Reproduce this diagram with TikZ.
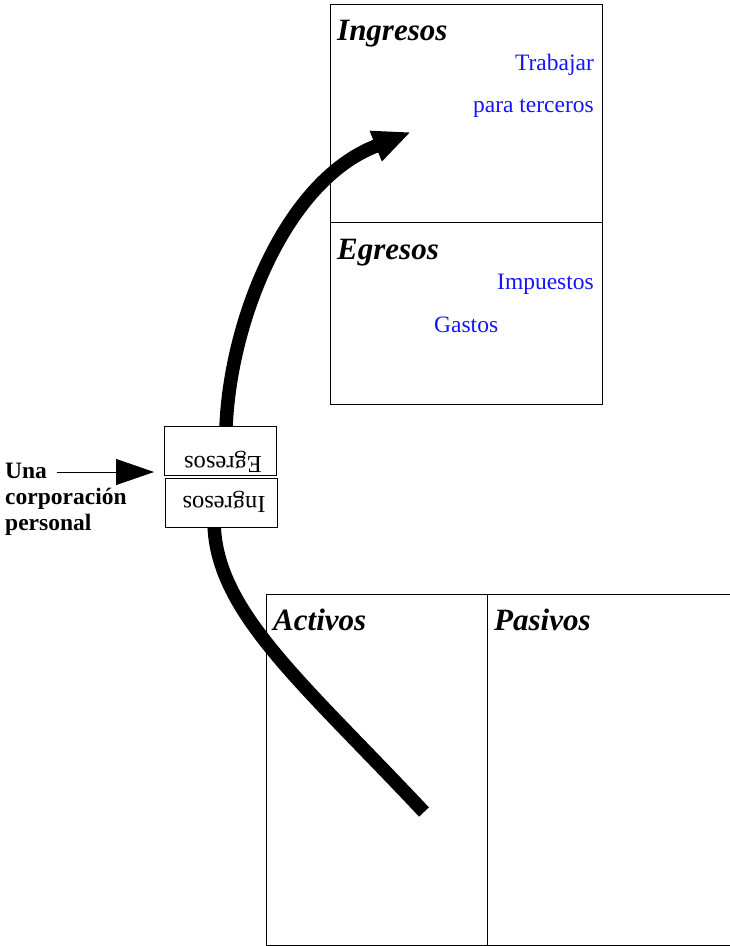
\documentclass[tikz,border=0pt]{standalone}
\usepackage{fontspec}
\setmainfont{Liberation Serif}
\usetikzlibrary{arrows.meta,calc}
\definecolor{txtblue}{RGB}{20,20,255}
\begin{document}
\begin{tikzpicture}[x=1pt,y=-1pt,
  panel/.style={draw=black,line width=1pt},
  title/.style={font=\fontsize{31}{36}\selectfont\bfseries\itshape,inner sep=0pt,anchor=base west},
  item/.style={font=\fontsize{23.5}{28}\selectfont,text=txtblue,inner sep=0pt},
  smallbox/.style={draw=black,fill=white,line width=0.8pt,minimum width=112pt,minimum height=49pt,inner sep=0pt},
  flip/.style={font=\fontsize{24.5}{28}\selectfont,rotate=180,inner sep=0pt},
  lefttext/.style={font=\fontsize{23.5}{28}\selectfont\bfseries,inner sep=0pt,anchor=base west},
  bigflow/.style={line width=13.5pt}
]
\useasboundingbox (0,0) rectangle (730,946);
% top panel
\draw[panel] (330,4) rectangle (602,404);
\draw[panel] (330,222) -- (602,222);
\node[title] (ing) at (337,40) {Ingresos};
\node[item,anchor=base east] (trab) at (594,70) {Trabajar};
\node[item,anchor=base east] (terc) at (594,112) {para terceros};
\node[title] (egr) at (337,259) {Egresos};
\node[item,anchor=base east] (imp) at (594,289) {Impuestos};
\node[item,anchor=base west] (gas) at (434,332) {Gastos};
% bottom panel
\draw[panel] (730,594) -- (266,594) -- (266,945) -- (730,945);
\draw[panel] (487,594) -- (487,945);
\node[title] (act) at (273,630) {Activos};
\node[title] (pas) at (494,630) {Pasivos};
% flows
\coordinate (top0) at (226,428);
\coordinate (base) at (376,146);
\coordinate (tip) at (411,132);
\coordinate (bot0) at (214,520);
\coordinate (bot1) at (424,812);
\draw[bigflow] (top0) .. controls (230,320) and (286,181) .. (base);
\draw[bigflow,-{Triangle[length=38pt,width=30pt]}] ($(base)!-2pt!(tip)$) -- (tip);
\draw[bigflow] (bot0) .. controls (214,610) and (300,680) .. (bot1);
% small boxes
\node[smallbox] (be) at (220,450.5) {};
\node[smallbox] (bi) at (221,503) {};
\node[flip] (te) at (223,462) {Egresos};
\node[flip] (ti) at (224,502) {Ingresos};
% left label
\node[lefttext] (una) at (5,478) {Una};
\node[lefttext] (corp) at (5,504) {corporación};
\node[lefttext] (pers) at (5,530) {personal};
\coordinate (arrowend) at (154,472);
\draw[line width=0.8pt,-{Triangle[length=38pt,width=26pt]}] (57,472) -- (arrowend);
\end{tikzpicture}
\end{document}
